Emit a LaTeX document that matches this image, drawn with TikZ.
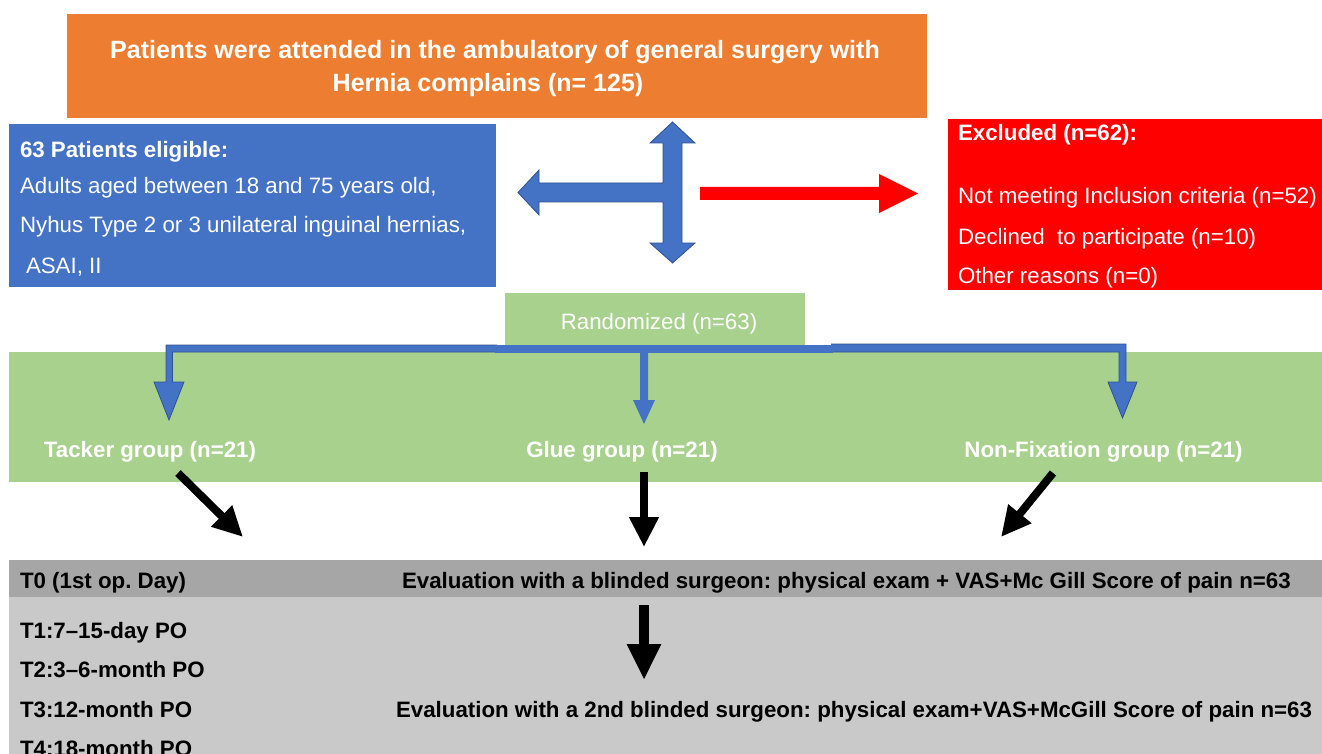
\documentclass[tikz,border=0pt]{standalone}
\usepackage{fontspec}
\setmainfont{Liberation Sans}
\usetikzlibrary{arrows.meta}
\definecolor{orangeC}{HTML}{ED7D31}
\definecolor{blueC}{HTML}{4472C4}
\definecolor{blueE}{HTML}{2F528F}
\definecolor{greenC}{HTML}{A9D18E}
\definecolor{grayD}{HTML}{A6A6A6}
\definecolor{grayL}{HTML}{C9C9C9}
\frenchspacing
\begin{document}
\begin{tikzpicture}[x=1pt,y=-1pt,
  box/.style 2 args={draw=none,inner sep=0,outer sep=0,anchor=north west,minimum width=#1,minimum height=#2},
  txt/.style={inner sep=0,outer sep=0,anchor=base west,font=\fontsize{22.3}{26}\selectfont},
  wtxt/.style={txt,text=white},
  wbold/.style={txt,text=white,font=\fontsize{22.3}{26}\selectfont\bfseries},
  kbold/.style={txt,text=black,font=\fontsize{22.3}{26}\selectfont\bfseries},
  blockarrow/.style={fill=blueC,draw=blueE,line width=0.8pt,line join=miter},
  blackarrow/.style={draw=black,line width=8pt,-{Triangle[width=28pt,length=30pt]}}
]
\useasboundingbox (0,0) rectangle (1322,754);

% boxes
\node[box={860pt}{104pt},fill=orangeC] (orange) at (67,14) {};
\node[box={487pt}{163pt},fill=blueC] (eligible) at (9,124) {};
\node[box={374pt}{171pt},fill=red] (excluded) at (948,119) {};
\node[box={1313pt}{130pt},fill=greenC] (groups) at (9,352) {};
\node[box={300pt}{53pt},fill=greenC] (rand) at (505,293) {};
\node[box={1313pt}{37pt},fill=grayD] (t0band) at (9,560) {};
\node[box={1313pt}{160pt},fill=grayL] (tband) at (9,597) {};

% orange text
\node[wbold,anchor=base,font=\fontsize{25}{30}\selectfont\bfseries] (o1) at (495,59) {Patients were attended in the ambulatory of general surgery with};
\node[wbold,anchor=base,font=\fontsize{25}{30}\selectfont\bfseries] (o2) at (488,92) {Hernia complains (n= 125)};

% eligible text
\node[wbold] (e1) at (20,158) {63 Patients eligible:};
\node[wtxt] (e2) at (20,194) {Adults aged between 18 and 75 years old,};
\node[wtxt] (e3) at (20,233) {Nyhus Type 2 or 3 unilateral inguinal hernias,};
\node[wtxt] (e4) at (26,273) {ASAI, II};

% excluded text
\node[wbold] (x1) at (958,141) {Excluded (n=62):};
\node[wtxt] (x2) at (958,204) {Not meeting Inclusion criteria (n=52)};
\node[wtxt] (x3) at (958,244) {Declined\ \ to participate (n=10)};
\node[wtxt] (x4) at (958,283) {Other reasons (n=0)};

% randomized
\node[wtxt,anchor=base] (r1) at (659,329) {Randomized (n=63)};

% group labels
\node[wbold,anchor=base] (g1) at (150,457) {Tacker group (n=21)};
\node[wbold,anchor=base] (g2) at (622,457) {Glue group (n=21)};
\node[wbold,anchor=base] (g3) at (1103.5,457) {Non-Fixation group (n=21)};

% bottom texts
\node[kbold] (t0) at (20,588) {T0 (1st op. Day)};
\node[kbold] (ev1) at (402,588) {Evaluation with a blinded surgeon: physical exam + VAS+Mc Gill Score of pain n=63};
\node[kbold] (t1) at (20,638) {T1:7–15-day PO};
\node[kbold] (t2) at (20,677) {T2:3–6-month PO};
\node[kbold] (t3) at (20,717) {T3:12-month PO};
\node[kbold] (t4) at (20,756) {T4:18-month PO};
\node[kbold] (ev2) at (396,717) {Evaluation with a 2nd blinded surgeon: physical exam+VAS+McGill Score of pain n=63};

% cross arrow (blue)
\draw[blockarrow] (672.5,122) -- (695,143) -- (682,143) -- (682,243) -- (695,243) -- (672.5,263)
  -- (650,243) -- (663,243) -- (663,202) -- (539,202) -- (539,215) -- (518,192.5) -- (539,170)
  -- (539,183) -- (663,183) -- (663,143) -- (650,143) -- cycle;

% red arrow
\fill[red] (700,187) -- (879,187) -- (879,174) -- (918,193.5) -- (879,213) -- (879,200) -- (700,200) -- cycle;

% randomization connectors
\draw[blockarrow] (497,345) -- (166,345) -- (166,382) -- (154,382) -- (169,420) -- (184,382)
  -- (172.5,382) -- (172.5,352) -- (497,352);
\draw[blockarrow] (831,344) -- (1126,344) -- (1126,382) -- (1137,382) -- (1122.5,418) -- (1108,382)
  -- (1119,382) -- (1119,352) -- (831,352);
\fill[blueC] (495,345) rectangle (833,353);
\fill[blueC] (640,352) -- (640,400) -- (633,400) -- (644,424) -- (655,400) -- (648,400) -- (648,352) -- cycle;

% black arrows
\coordinate (a1s) at (178,473); \coordinate (a1e) at (243,537);
\coordinate (a2s) at (644,472); \coordinate (a2e) at (644,547);
\coordinate (a3s) at (1053,473); \coordinate (a3e) at (1001,537);
\coordinate (a4s) at (644,605); \coordinate (a4e) at (644,680);
\draw[blackarrow] (a1s) -- (a1e);
\draw[blackarrow] (a2s) -- (a2e);
\draw[blackarrow] (a3s) -- (a3e);
\draw[blackarrow,line width=10pt,-{Triangle[width=32pt,length=36pt]}] (a4s) -- (a4e);
\end{tikzpicture}
\end{document}
